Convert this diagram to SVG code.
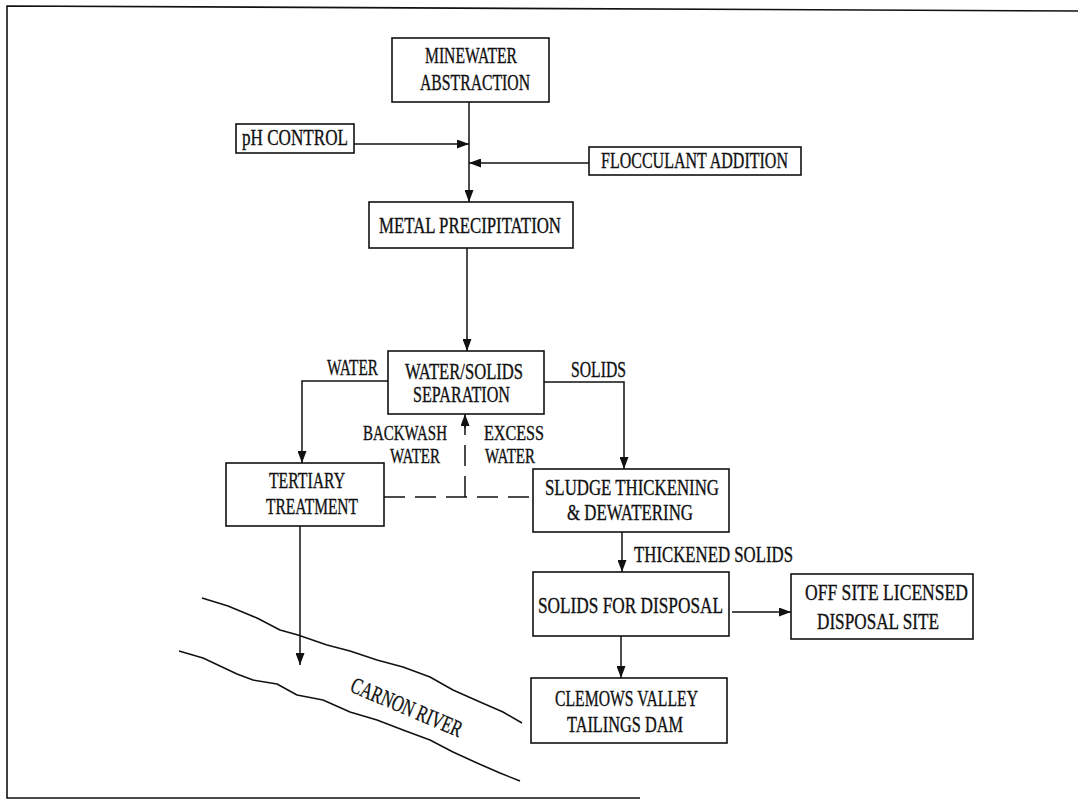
<svg xmlns="http://www.w3.org/2000/svg" width="1078" height="805" viewBox="0 0 1078 805">
  <style>
    .box { fill: #fff; stroke: #111; stroke-width: 1.6; }
    .lbl { font-family: "Liberation Serif", "DejaVu Serif", serif; font-size: 23px; fill: #111; stroke: #111; stroke-width: 0.35; }
    .sm { font-size: 20px; }
    .ln { fill: none; stroke: #111; stroke-width: 1.5; }
    .dash { fill: none; stroke: #111; stroke-width: 1.5; stroke-dasharray: 21 10; }
    .bank { fill: none; stroke: #111; stroke-width: 1.5; stroke-linejoin: round; }
    .frame { fill: none; stroke: #111; stroke-width: 1.6; }
  </style>
  <defs>
    <marker id="arr" markerUnits="userSpaceOnUse" markerWidth="13" markerHeight="9" refX="12" refY="4.5" orient="auto">
      <path d="M0,0 L12,4.5 L0,9 z" fill="#111"/>
    </marker>
  </defs>
  <rect width="1078" height="805" fill="#fff"/>

  <!-- page frame -->
  <g id="frame">
    <polyline class="frame" points="1078,11 7,6 7,798 640,798"/>
  </g>

  <!-- connectors -->
  <g id="connectors">
    <line class="ln" x1="469" y1="102" x2="469" y2="202" marker-end="url(#arr)"/>
    <line class="ln" x1="354" y1="144" x2="469" y2="144" marker-end="url(#arr)"/>
    <line class="ln" x1="589" y1="163" x2="469" y2="163" marker-end="url(#arr)"/>
    <line class="ln" x1="467" y1="248" x2="467" y2="351" marker-end="url(#arr)"/>
    <polyline class="ln" points="388,381 302,381 302,463" marker-end="url(#arr)"/>
    <polyline class="ln" points="544,382 624,382 624,469" marker-end="url(#arr)"/>
    <line class="dash" x1="384" y1="497" x2="534" y2="497"/>
    <line class="dash" x1="465" y1="497" x2="465" y2="425"/>
    <line class="ln" x1="465" y1="428" x2="465" y2="414" marker-end="url(#arr)"/>
    <line class="ln" x1="622" y1="532" x2="622" y2="572" marker-end="url(#arr)"/>
    <line class="ln" x1="732" y1="612" x2="791" y2="612" marker-end="url(#arr)"/>
    <line class="ln" x1="621" y1="636" x2="621" y2="678" marker-end="url(#arr)"/>
    <line class="ln" x1="300" y1="526" x2="300" y2="665" marker-end="url(#arr)"/>
  </g>

  <!-- flow labels -->
  <g id="flow-labels">
    <text class="lbl" x="327" y="375" textLength="51" lengthAdjust="spacingAndGlyphs">WATER</text>
    <text class="lbl" x="571" y="377" textLength="55" lengthAdjust="spacingAndGlyphs">SOLIDS</text>
    <text class="lbl sm" x="363" y="440" textLength="84" lengthAdjust="spacingAndGlyphs">BACKWASH</text>
    <text class="lbl sm" x="390" y="463" textLength="50" lengthAdjust="spacingAndGlyphs">WATER</text>
    <text class="lbl sm" x="484" y="440" textLength="60" lengthAdjust="spacingAndGlyphs">EXCESS</text>
    <text class="lbl sm" x="485" y="463" textLength="50" lengthAdjust="spacingAndGlyphs">WATER</text>
    <text class="lbl" x="634" y="562" textLength="159" lengthAdjust="spacingAndGlyphs">THICKENED SOLIDS</text>
  </g>

  <g id="minewater">
    <rect class="box" x="392" y="38" width="157" height="64"/>
    <text class="lbl" x="425" y="63" textLength="92" lengthAdjust="spacingAndGlyphs">MINEWATER</text>
    <text class="lbl" x="420" y="90" textLength="110" lengthAdjust="spacingAndGlyphs">ABSTRACTION</text>
  </g>

  <g id="ph-control">
    <rect class="box" x="236" y="124" width="118" height="29"/>
    <text class="lbl" x="242" y="145" textLength="106" lengthAdjust="spacingAndGlyphs">pH CONTROL</text>
  </g>

  <g id="flocculant">
    <rect class="box" x="589" y="147" width="212" height="28"/>
    <text class="lbl" x="601" y="168" textLength="187" lengthAdjust="spacingAndGlyphs">FLOCCULANT ADDITION</text>
  </g>

  <g id="metal-precipitation">
    <rect class="box" x="369" y="202" width="204" height="46"/>
    <text class="lbl" x="379" y="233" textLength="182" lengthAdjust="spacingAndGlyphs">METAL PRECIPITATION</text>
  </g>

  <g id="separation">
    <rect class="box" x="388" y="351" width="156" height="63"/>
    <text class="lbl" x="405" y="379" textLength="118" lengthAdjust="spacingAndGlyphs">WATER/SOLIDS</text>
    <text class="lbl" x="413" y="402" textLength="97" lengthAdjust="spacingAndGlyphs">SEPARATION</text>
  </g>

  <g id="tertiary">
    <rect class="box" x="226" y="463" width="158" height="63"/>
    <text class="lbl" x="269" y="488" textLength="76" lengthAdjust="spacingAndGlyphs">TERTIARY</text>
    <text class="lbl" x="266" y="514" textLength="92" lengthAdjust="spacingAndGlyphs">TREATMENT</text>
  </g>

  <g id="sludge">
    <rect class="box" x="533" y="469" width="196" height="63"/>
    <text class="lbl" x="545" y="495" textLength="174" lengthAdjust="spacingAndGlyphs">SLUDGE THICKENING</text>
    <text class="lbl" x="567" y="520" textLength="126" lengthAdjust="spacingAndGlyphs">&amp; DEWATERING</text>
  </g>

  <g id="solids-disposal">
    <rect class="box" x="533" y="572" width="196" height="64"/>
    <text class="lbl" x="538" y="613" textLength="185" lengthAdjust="spacingAndGlyphs">SOLIDS FOR DISPOSAL</text>
  </g>

  <g id="offsite">
    <rect class="box" x="791" y="574" width="182" height="65"/>
    <text class="lbl" x="805" y="600" textLength="163" lengthAdjust="spacingAndGlyphs">OFF SITE LICENSED</text>
    <text class="lbl" x="817" y="629" textLength="122" lengthAdjust="spacingAndGlyphs">DISPOSAL SITE</text>
  </g>

  <g id="clemows">
    <rect class="box" x="531" y="678" width="196" height="65"/>
    <text class="lbl" x="555" y="706" textLength="143" lengthAdjust="spacingAndGlyphs">CLEMOWS VALLEY</text>
    <text class="lbl" x="567" y="732" textLength="116" lengthAdjust="spacingAndGlyphs">TAILINGS DAM</text>
  </g>

  <!-- river banks -->
  <g id="carnon-river">
    <path class="bank" d="M202,598 L228,606 L257,618 L280,630 L298,635 L327,645 L350,651 L377,660 L403,667 L430,677 L453,690 L480,702 L503,712 L522,723"/>
    <path class="bank" d="M179,651 L203,658 L237,674 L253,680 L277,684 L297,695 L323,700 L350,712 L377,720 L403,730 L430,740 L453,752 L477,763 L500,773 L520,781"/>
    <text class="lbl" transform="translate(349,691) rotate(23)" x="0" y="0" textLength="119" lengthAdjust="spacingAndGlyphs">CARNON RIVER</text>
  </g>
</svg>
